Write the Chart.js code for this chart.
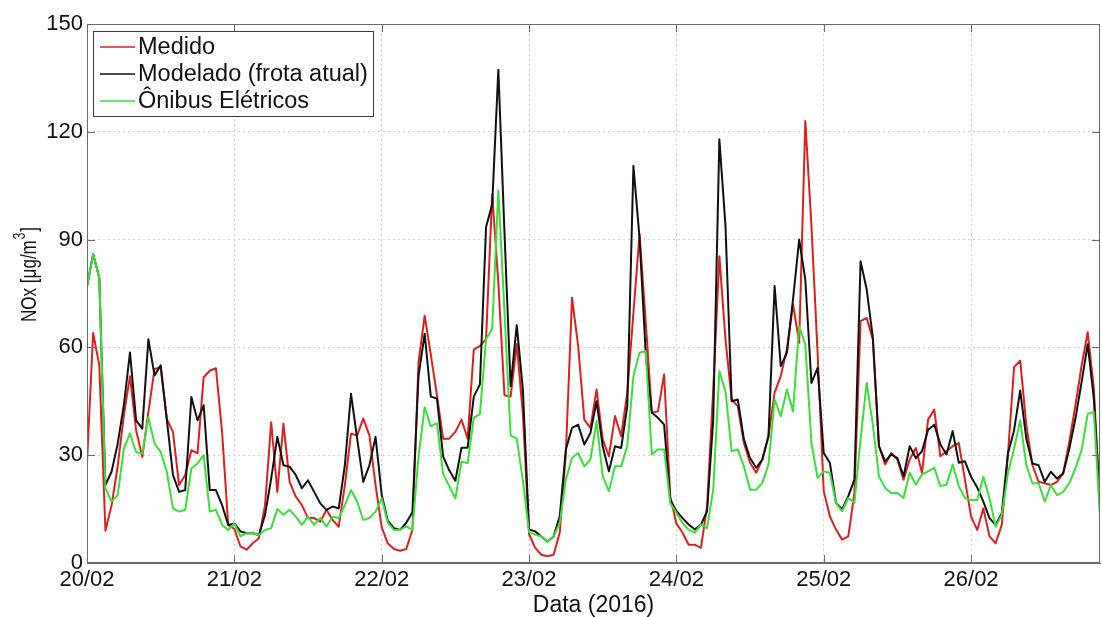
<!DOCTYPE html>
<html>
<head>
<meta charset="utf-8">
<script src="https://cdn.jsdelivr.net/npm/chart.js@4.4.1/dist/chart.umd.min.js"></script>
<style>
  html, body { margin: 0; padding: 0; background: #ffffff; }
  #wrap { width: 1102px; height: 617px; }
</style>
</head>
<body>
<div id="wrap"><canvas id="nox" width="1102" height="617"></canvas></div>
<script>
// Hourly NOx series starting 20/02/2016 00:00 (index = hour offset)
const dayLabels = ['20/02', '21/02', '22/02', '23/02', '24/02', '25/02', '26/02'];

const medido = [
  28, 64, 55, 9, 16, 27, 41, 52, 37, 29.5, 42, 54, 54.5, 40, 36.5, 21.7, 24.5, 31.4, 30.5, 51.7, 53.5, 54.2, 36.5, 10.6,
  9.5, 4.6, 3.7, 5.5, 6.9, 16.1, 39.2, 19.8, 38.8, 22.6, 18.5, 16.1, 12.5, 12.5, 11.5, 14.8, 12, 10.1, 21.7, 36, 35.5, 40.2, 35.5, 21.7,
  10, 5.4, 3.9, 3.4, 3.9, 9.2, 56, 68.8, 58, 46.7, 34.6, 34.6, 36.5, 39.9, 34.6, 59.4, 60.4, 62.3, 102.7, 78, 46.7, 46.3, 60.9, 41.4,
  8, 4.2, 2.3, 1.9, 2.3, 8.4, 30.6, 73.8, 60.4, 39.9, 37.6, 48.3, 34.4, 29.7, 40.9, 35.3, 47.4, 69.6, 91.5, 67.3, 41.8, 42.2, 52.5, 18.6,
  11, 8.4, 5.1, 5.1, 4.2, 15.8, 48.3, 85.4, 62.2, 45.5, 43.6, 33.4, 27.9, 25.1, 28.8, 35.3, 47.4, 52, 59.4, 72, 61.3, 123, 93.8, 58.5,
  20, 13, 9.3, 6.5, 7.4, 19.5, 67.3, 68.2, 62.2, 32.5, 27.4, 30.6, 28.8, 23.2, 28.8, 32, 25.1, 39.9, 42.7, 29.7, 31.1, 32.5, 33.4, 23.2,
  12.9, 9.2, 15.2, 7.4, 5.5, 10.6, 30, 54.5, 56.3, 38.3, 27.2, 22.6, 22.2, 21.7, 22.6, 24.9, 33.7, 43.9, 54.9, 64.2, 48.5, 16
];

const modelado = [
  77, 86, 79.4, 21.7, 25.4, 33.2, 43.9, 58.6, 39.7, 37.4, 62.3, 52.2, 55, 40, 24.5, 19.8, 20.3, 46.2, 39.7, 43.9, 20.3, 20.3, 16.1, 10.6,
  11, 8.8, 8.3, 8.3, 7.8, 13.4, 23.5, 35.1, 27.2, 26.8, 24.5, 20.8, 23, 19.8, 16.6, 14.8, 15.7, 15.2, 27.2, 47.1, 34.6, 22.6, 27.2, 35.1,
  19, 11.7, 9.7, 9.2, 11.2, 14.1, 52.1, 63.8, 46.3, 45.8, 29.7, 25.8, 22.9, 32.1, 32.1, 46.3, 49.7, 93.5, 99.8, 137.3, 92, 49.2, 66.2, 48.2,
  9.3, 8.8, 7.4, 6, 7.4, 13, 31.6, 37.6, 38.5, 33, 36.2, 45, 32.5, 25.5, 32.5, 32, 43.6, 110.5, 90.5, 58.5, 41.8, 40.4, 38.5, 17.6,
  14.5, 12.5, 10.7, 9.3, 10.7, 14.4, 39.9, 117.9, 93.8, 45, 45.5, 34.4, 29.2, 26.5, 28.8, 35.3, 77.1, 54.8, 58.5, 73.4, 90, 78.9, 50.1, 54.3,
  30.6, 27.9, 16.7, 14.9, 18.6, 23.2, 84, 76.1, 62.7, 32.5, 28.3, 30.2, 29.2, 24.1, 32.5, 29.2, 31.1, 37.1, 38.5, 33, 30.2, 36.7, 27.9, 28.3,
  24, 21, 17.1, 12.5, 10.6, 13.8, 30.5, 36.9, 48, 34.6, 27.7, 27.2, 22.6, 25.4, 23.5, 24.9, 31.8, 40.2, 50.3, 60.9, 45.7, 16
];

const onibusEletricos = [
  77, 86, 79.4, 20.8, 17.1, 18.9, 31.8, 36, 30.9, 30.5, 40.6, 33.2, 30.9, 25.4, 15.2, 14.3, 14.8, 26.3, 27.7, 30, 14.3, 14.8, 10.6, 9.2,
  11, 7.4, 8.3, 8.3, 7.8, 9.2, 9.7, 15, 13.4, 14.8, 12.9, 10.6, 12.9, 10.6, 12.5, 10.1, 12.9, 12.5, 16.1, 20.3, 17.1, 12, 12.5, 14.3,
  18, 11.2, 9.2, 9.2, 10.2, 9.2, 29.7, 43.3, 38, 38.9, 24.8, 21.4, 18, 28.2, 27.8, 40.4, 41.4, 62.3, 65.2, 103.7, 70, 35.5, 34.6, 22.9,
  8.6, 7.9, 7.4, 6, 7.4, 11.1, 23.2, 29.2, 30.6, 26.9, 28.8, 39.5, 24.1, 20, 26.9, 26.9, 32.5, 52, 58.5, 59, 30.2, 31.6, 31.6, 16.7,
  14, 11.1, 9.3, 8.4, 10.7, 9.7, 20.4, 53.4, 47.8, 31.1, 31.6, 26.9, 20.4, 20.4, 22.3, 27.4, 45.5, 40.9, 48.3, 42.2, 65.9, 60.8, 33.4, 23.7,
  25.5, 25.1, 16.7, 14.4, 18.1, 16.7, 34.4, 50.1, 38.5, 24.1, 20.9, 19.5, 19.5, 18.1, 25.1, 21.8, 24.6, 25.5, 26.5, 21.4, 21.8, 27.4, 21.4, 18.1,
  17.5, 17.5, 24, 18, 10.1, 13.4, 24.9, 31.8, 39.7, 27.2, 22.2, 22.2, 17.1, 21.7, 18.9, 19.8, 22.2, 26.3, 31.4, 41.5, 42, 12.9
];

const yTicks = [0, 30, 60, 90, 120, 150];

const HOURS_PER_DAY = 24;
const lastHour = medido.length - 1;
const dayStarts = dayLabels.map((_, i) => i * HOURS_PER_DAY);

const toPoints = arr => arr.map((v, i) => ({ x: i, y: v }));

const FONT = '"Liberation Sans", Arial, Helvetica, sans-serif';
const TEXT = '#111111';
const AXIS = '#6a6a6a';

Chart.defaults.font.family = FONT;
Chart.defaults.font.size = 22;
Chart.defaults.color = TEXT;

// Box around the plot, inward tick marks, y-axis label and the inset legend
const axesBox = {
  id: 'axesBox',
  afterDraw(chart) {
    const { ctx, chartArea: a, scales } = chart;
    ctx.save();
    ctx.strokeStyle = AXIS;
    ctx.lineWidth = 1;
    ctx.strokeRect(a.left + 0.5, a.top + 0.5, a.right - a.left - 1, a.bottom - a.top - 1);

    const tl = 8;
    ctx.beginPath();
    dayStarts.forEach(v => {
      const x = Math.round(scales.x.getPixelForValue(v)) + 0.5;
      ctx.moveTo(x, a.bottom); ctx.lineTo(x, a.bottom - tl);
      ctx.moveTo(x, a.top); ctx.lineTo(x, a.top + tl);
    });
    yTicks.forEach(v => {
      const y = Math.round(scales.y.getPixelForValue(v)) + 0.5;
      ctx.moveTo(a.left, y); ctx.lineTo(a.left + tl, y);
      ctx.moveTo(a.right, y); ctx.lineTo(a.right - tl, y);
    });
    ctx.stroke();

    // y-axis label (condensed) with a raised exponent
    ctx.save();
    ctx.translate(36, 322);
    ctx.rotate(-Math.PI / 2);
    ctx.scale(0.775, 1);
    ctx.fillStyle = TEXT;
    ctx.textAlign = 'left';
    ctx.textBaseline = 'alphabetic';
    ctx.font = '22px ' + FONT;
    const base = 'NOx [μg/m';
    ctx.fillText(base, 0, 0);
    let w = ctx.measureText(base).width;
    ctx.font = '16px ' + FONT;
    ctx.fillText('3', w + 1, -11);
    w += ctx.measureText('3').width + 2;
    ctx.font = '22px ' + FONT;
    ctx.fillText(']', w, 0);
    ctx.restore();

    // legend
    const bx = a.left + 6, by = a.top + 7, bw = 280, bh = 85;
    ctx.fillStyle = '#ffffff';
    ctx.fillRect(bx, by, bw, bh);
    ctx.strokeStyle = '#3a3a3a';
    ctx.strokeRect(bx + 0.5, by + 0.5, bw, bh);
    ctx.font = '23.5px ' + FONT;
    ctx.textBaseline = 'middle';
    ctx.textAlign = 'left';
    chart.data.datasets.forEach((ds, i) => {
      const y = by + 16 + i * 27;
      ctx.strokeStyle = ds.borderColor;
      ctx.lineWidth = 1.5;
      ctx.beginPath();
      ctx.moveTo(bx + 7, y);
      ctx.lineTo(bx + 42, y);
      ctx.stroke();
      ctx.fillStyle = TEXT;
      ctx.fillText(ds.label, bx + 45, y + 1);
    });
    ctx.restore();
  }
};

new Chart(document.getElementById('nox'), {
  type: 'line',
  data: {
    datasets: [
      { label: 'Medido', data: toPoints(medido), borderColor: '#d92121', order: 2 },
      { label: 'Modelado (frota atual)', data: toPoints(modelado), borderColor: '#111111', order: 1 },
      { label: 'Ônibus Elétricos', data: toPoints(onibusEletricos), borderColor: '#3cdc3c', order: 0 }
    ]
  },
  options: {
    responsive: false,
    animation: false,
    layout: { padding: { top: 24, right: 2, left: 0, bottom: 0 } },
    elements: {
      point: { radius: 0 },
      line: { borderWidth: 2, tension: 0, borderJoinStyle: 'round' }
    },
    plugins: {
      legend: { display: false },
      tooltip: { enabled: false }
    },
    scales: {
      x: {
        type: 'linear',
        min: 0,
        max: lastHour,
        afterBuildTicks: s => { s.ticks = dayStarts.map(v => ({ value: v })); },
        afterFit: s => { s.height = 54; },
        grid: { color: '#cfcfcf', lineWidth: 1, drawTicks: false },
        border: { display: true, color: AXIS, dash: [2, 3] },
        ticks: {
          padding: 4,
          maxRotation: 0,
          autoSkip: false,
          callback: v => dayLabels[Math.round(v / HOURS_PER_DAY)]
        },
        title: {
          display: true, text: 'Data (2016)',
          font: { size: 23, lineHeight: 1 },
          padding: { top: 0, bottom: 0 }
        }
      },
      y: {
        min: 0,
        max: 150,
        afterBuildTicks: s => { s.ticks = yTicks.map(v => ({ value: v })); },
        afterFit: s => { s.width = 87; },
        grid: { color: '#cfcfcf', lineWidth: 1, drawTicks: false },
        border: { display: true, color: AXIS, dash: [2, 3] },
        ticks: { padding: 4 }
      }
    }
  },
  plugins: [axesBox]
});
</script>
</body>
</html>
